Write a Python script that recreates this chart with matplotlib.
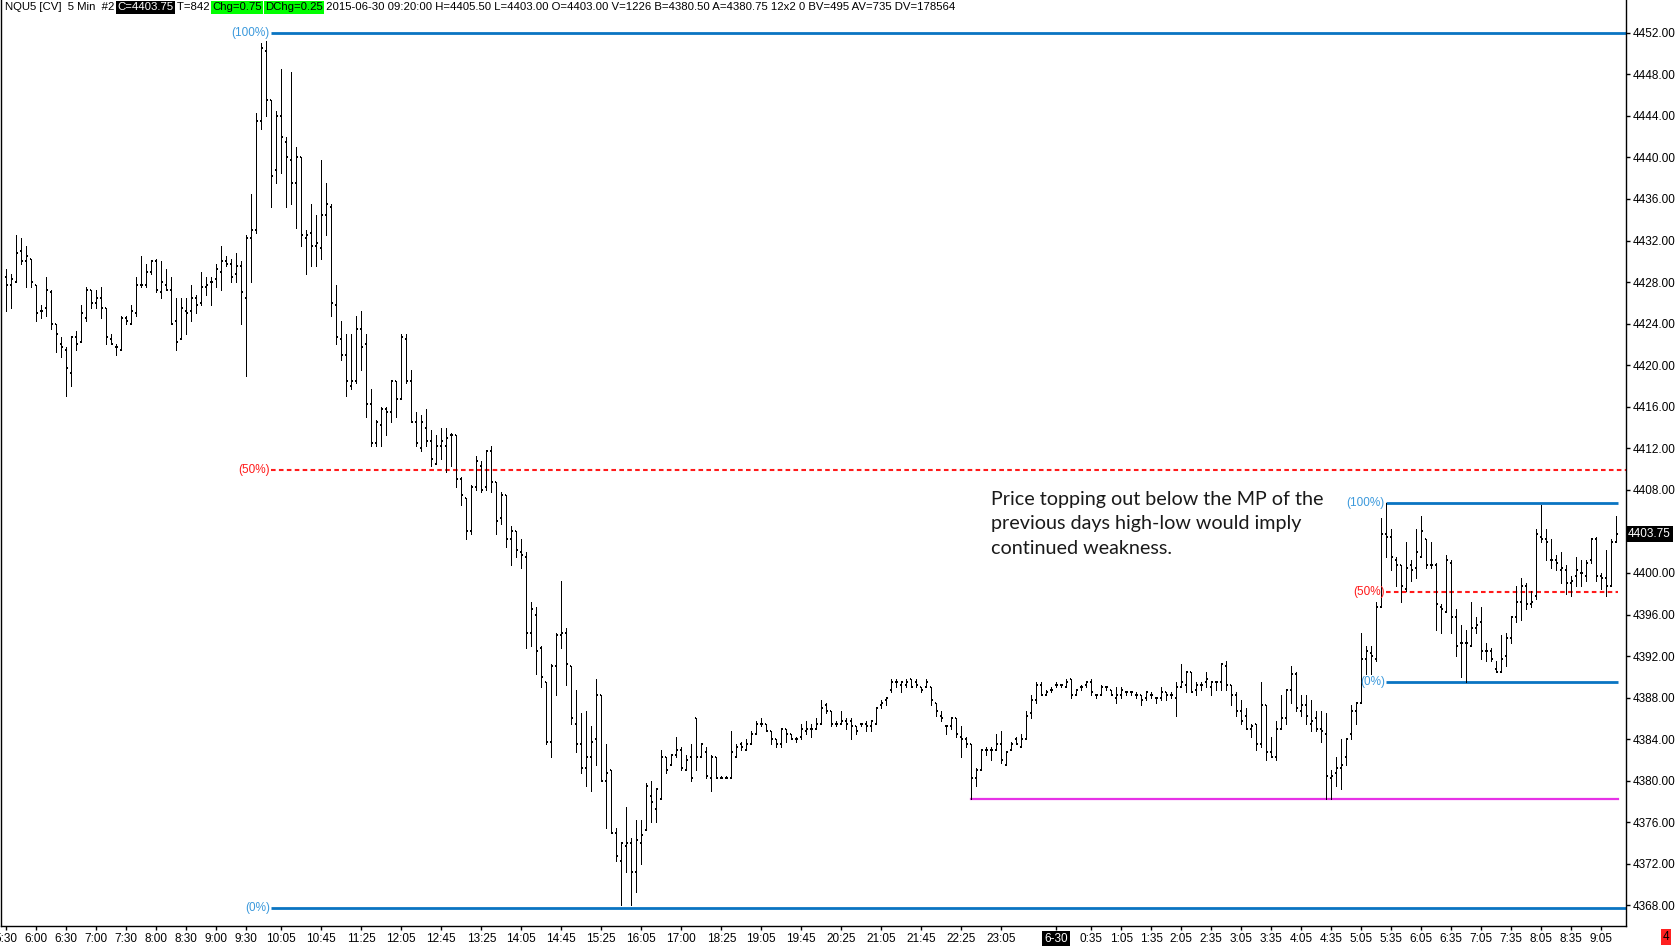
import numpy as np
import pandas as pd
import matplotlib
matplotlib.use("Agg")
import matplotlib.pyplot as plt
from matplotlib.collections import LineCollection
from matplotlib import transforms

# NQU5 5-min bars, 2015-06-29 05:30 -> 2015-06-30 09:20
opens = [
    4428.5, 4427.75, 4428, 4431, 4430, 4430.25, 4427.75, 4425.25, 4425.5, 4427,
    4424, 4422, 4421.5, 4419.25, 4422.75, 4422.25, 4424.5, 4427.25, 4426, 4426.5,
    4425.5, 4422.5, 4421.75, 4421.5, 4424.5, 4424, 4425, 4427.75, 4427.75, 4429,
    4430, 4427, 4427.75, 4427.25, 4424.25, 4422.5, 4425.25, 4425.25, 4426.5, 4426,
    4427.5, 4428, 4428.25, 4429, 4430, 4429.75, 4428.75, 4429.5, 4426.5, 4432.25,
    4433, 4443.5, 4450.25, 4445.5, 4438.75, 4444, 4441.5, 4439.75, 4437.5, 4440,
    4432.25, 4432.75, 4431.5, 4431.25, 4434.5, 4435.25, 4425.75, 4422.5, 4421, 4418,
    4418.5, 4423.5, 4422, 4416.25, 4412.5, 4414.25, 4415.75, 4415.5, 4418.5, 4416.75,
    4422.5, 4418.5, 4414.5, 4412, 4414, 4412.75, 4410.5, 4412.25, 4412.25, 4413.25,
    4413.25, 4409, 4407.25, 4404, 4408.25, 4410.25, 4408.25, 4411.75, 4408.75, 4405.25,
    4407.5, 4403.25, 4404, 4402, 4401.5, 4394.25, 4396, 4392.75, 4389.5, 4383.75,
    4391, 4394, 4394.25, 4391, 4385.5, 4383.5, 4381.25, 4382.25, 4384, 4388.25,
    4380, 4381, 4375, 4372.25, 4373.75, 4374, 4371.25, 4374, 4375.25, 4378.5,
    4377.25, 4378.25, 4382.25, 4381.5, 4382.5, 4383, 4381, 4382.25, 4386, 4382.25,
    4382.75, 4380.25, 4382.25, 4380.25, 4380.25, 4380.25, 4382.25, 4383.5, 4383, 4383.5,
    4384.5, 4385.5, 4385.5, 4384.75, 4384, 4383.5, 4385, 4384.5, 4384, 4384.25,
    4384.75, 4385, 4385, 4385.5, 4387.25, 4386.75, 4385.5, 4385.5, 4385.75, 4385.75,
    4385.25, 4385.5, 4385.5, 4385.25, 4385.5, 4387.25, 4387.75, 4388.75, 4389.5, 4389.25,
    4389.25, 4389.75, 4389.5, 4389, 4389, 4389, 4387.5, 4386.25, 4385.25, 4385.25,
    4386, 4384.25, 4384, 4383.5, 4380.25, 4381, 4383, 4383, 4383, 4383.5,
    4381.5, 4383, 4384, 4383.25, 4384, 4386.5, 4387.75, 4389.25, 4388.25, 4388.75,
    4389.25, 4389.25, 4389, 4389.75, 4388.25, 4389, 4389.25, 4389.5, 4388.25, 4388.25,
    4389, 4388.75, 4388, 4388.25, 4388.5, 4388.5, 4388.25, 4388.25, 4388, 4388.25,
    4388, 4388, 4388.5, 4388.25, 4388, 4389, 4389.25, 4390.5, 4388.75, 4389.25,
    4389.5, 4389, 4389.5, 4389.5, 4391, 4389.25, 4388.25, 4386.75, 4386.25, 4385,
    4385.5, 4383.5, 4387.25, 4382.75, 4382.25, 4385, 4386, 4388.75, 4390.25, 4386.75,
    4387.25, 4385.5, 4386, 4385, 4384.5, 4380.25, 4380.75, 4381.25, 4382.25, 4384.5,
    4386.75, 4387.5, 4391.75, 4392.25, 4391.75, 4396.75, 4403.75, 4403.5, 4401.25, 4400.75,
    4398.5, 4400.75, 4400.5, 4401.5, 4403.25, 4400.75, 4400.75, 4396.75, 4396.25, 4401,
    4395.75, 4393.25, 4393.25, 4393, 4394.75, 4395.25, 4392.5, 4392.5, 4390.75, 4390.5,
    4392, 4393.75, 4395.75, 4397.25, 4398.75, 4397, 4397.75, 4403.5, 4403.25, 4401.25,
    4401.25, 4400.25, 4400.25, 4399, 4399.75, 4400, 4399.75, 4401.25, 4403.25, 4399.75,
    4399.5, 4398.75, 4403,
]
highs = [
    4429.25, 4428.75, 4432.5, 4432.25, 4431.5, 4430.25, 4427.75, 4425.75, 4428.5, 4427.25,
    4424, 4422.75, 4421.75, 4422.75, 4423.25, 4425.75, 4427.5, 4427.25, 4427.25, 4427.5,
    4425.5, 4423, 4422, 4424.75, 4424.75, 4425.75, 4428.5, 4430.5, 4429.75, 4430,
    4430.25, 4430, 4429.25, 4428.5, 4426.5, 4426.5, 4426.5, 4427.75, 4426.75, 4429,
    4428.5, 4428.5, 4429.75, 4431.5, 4430.5, 4430.25, 4430.75, 4430, 4432.5, 4436.5,
    4444.25, 4451, 4451.25, 4445.5, 4444.5, 4448.5, 4442, 4448.25, 4441, 4440,
    4433, 4435.5, 4434.5, 4439.75, 4437.5, 4435.5, 4427.75, 4424.25, 4423, 4423,
    4424.75, 4425.25, 4423, 4417.75, 4414.75, 4416, 4416, 4418.5, 4418.5, 4423,
    4423, 4419.5, 4415.5, 4415.25, 4415.75, 4413.75, 4413.25, 4414, 4414, 4413.5,
    4413.25, 4409.25, 4407.25, 4408.5, 4411.25, 4410.75, 4411.75, 4412.25, 4408.75, 4407.75,
    4407.5, 4404.5, 4404, 4403.25, 4402, 4397.25, 4396.75, 4393, 4389.5, 4391.25,
    4394.25, 4399.25, 4394.75, 4391, 4388.75, 4386.5, 4386.75, 4385.25, 4389.75, 4388.25,
    4383.5, 4381, 4375.5, 4374, 4377.5, 4374.5, 4376.25, 4376.25, 4379.75, 4380,
    4379.25, 4383, 4382.25, 4382.5, 4384.25, 4383.25, 4382.5, 4383.5, 4386, 4383.5,
    4383.25, 4382.5, 4382.25, 4380.5, 4380.5, 4384.75, 4383.5, 4383.75, 4384, 4384.75,
    4385.75, 4386, 4385.5, 4384.75, 4384, 4385, 4385, 4384.5, 4384.25, 4385.5,
    4385.75, 4385.5, 4386, 4387.75, 4387.5, 4386.75, 4385.75, 4386.75, 4386, 4386,
    4385.25, 4385.5, 4385.75, 4385.75, 4387, 4387.75, 4388, 4389.75, 4389.75, 4389.5,
    4389.75, 4389.75, 4389.75, 4389, 4389.75, 4389, 4387.5, 4386.75, 4385.25, 4386,
    4386, 4385.25, 4384.25, 4383.5, 4381.25, 4383, 4383.25, 4383.25, 4384.5, 4384.75,
    4382.75, 4383.75, 4384.25, 4384.5, 4386.75, 4388.25, 4389.5, 4389.5, 4388.75, 4389,
    4389.5, 4389.25, 4389.75, 4389.75, 4388.75, 4389.25, 4389.5, 4389.75, 4388.25, 4389.25,
    4389, 4388.75, 4389, 4389, 4388.5, 4388.5, 4388.5, 4388.25, 4388.5, 4388.5,
    4388, 4389, 4388.5, 4388.5, 4389.5, 4391.25, 4390.5, 4390.5, 4389.5, 4389.5,
    4390.5, 4389.5, 4389.5, 4391.25, 4391.5, 4389.25, 4388.5, 4387.75, 4387, 4385.5,
    4385.5, 4389.5, 4387.25, 4384.25, 4385.75, 4388.25, 4388.75, 4391, 4390.5, 4388.25,
    4388.25, 4387.75, 4386.75, 4386.75, 4386.5, 4381, 4382.25, 4384, 4384, 4387.25,
    4387.5, 4394.25, 4393, 4393, 4397.25, 4405.25, 4406.75, 4404.25, 4401.5, 4400.75,
    4403, 4401.25, 4404.25, 4405.5, 4403.25, 4403, 4401, 4397, 4401.75, 4401.25,
    4396.5, 4395, 4394.5, 4397.25, 4395.75, 4396.75, 4393.25, 4392.75, 4391.5, 4394,
    4394.25, 4395.75, 4398.75, 4399.5, 4399, 4398.25, 4404.25, 4406.5, 4404.25, 4403.25,
    4401.75, 4402, 4400.75, 4399.75, 4401.5, 4401.25, 4401.25, 4403.25, 4403.5, 4400,
    4402.25, 4403.25, 4405.5,
]
lows = [
    4425.25, 4425.5, 4428, 4429.75, 4427.5, 4427.5, 4424.25, 4424.5, 4424.75, 4423.5,
    4421.25, 4420.75, 4417, 4418, 4421.5, 4422.25, 4424.25, 4425.5, 4425.5, 4424.5,
    4422, 4422, 4421, 4421.5, 4424, 4424, 4424.75, 4427.5, 4427.5, 4428.75,
    4427, 4426.5, 4427.25, 4424, 4421.5, 4422.5, 4423, 4424.25, 4425, 4425.75,
    4426.75, 4425.75, 4427.5, 4427.25, 4429.5, 4428, 4428, 4424, 4419, 4428,
    4432.75, 4442.75, 4444, 4435.25, 4437.5, 4438.5, 4435.25, 4435.5, 4433.25, 4431.5,
    4428.75, 4429.5, 4429.5, 4430.25, 4432.5, 4424.75, 4422, 4420.5, 4417, 4417.75,
    4418.25, 4419.5, 4415, 4412.25, 4412.25, 4412.25, 4413.25, 4414.5, 4415, 4416.75,
    4418.25, 4414.5, 4412.25, 4411.75, 4412.25, 4410.25, 4410.5, 4411, 4409.75, 4410.25,
    4408.25, 4406.5, 4403.25, 4403.75, 4408, 4407.75, 4408, 4407.75, 4403.75, 4404.75,
    4402.5, 4400.75, 4401.5, 4400.5, 4392.75, 4393, 4390.25, 4389, 4383.5, 4382.25,
    4388.25, 4392.75, 4389.25, 4385.5, 4382.75, 4380.75, 4379.5, 4379, 4381.5, 4380,
    4375.5, 4375, 4372.25, 4368, 4371.25, 4368, 4369.25, 4372, 4375.25, 4376,
    4376, 4378.25, 4380.75, 4381.5, 4382.25, 4381, 4381, 4380, 4381, 4382.25,
    4380.25, 4379, 4380.25, 4380.25, 4380.25, 4380.25, 4382.25, 4383, 4383, 4383.5,
    4384.5, 4385.25, 4384.75, 4383.5, 4383.25, 4383.25, 4383.75, 4384, 4383.75, 4384,
    4384.5, 4384.25, 4385, 4385.5, 4386.5, 4385.25, 4385.25, 4385.5, 4385, 4384,
    4384.5, 4385.25, 4384.75, 4384.75, 4385.5, 4387, 4387.25, 4388.5, 4389, 4388.5,
    4389, 4389, 4389, 4388.5, 4389, 4387.25, 4386.25, 4385.75, 4384.5, 4385,
    4384.25, 4382.25, 4383.25, 4378.25, 4379.5, 4381, 4382.5, 4382, 4383, 4381.75,
    4381.5, 4383, 4383.5, 4383.25, 4384, 4386, 4387.5, 4388.25, 4388.25, 4388.5,
    4389, 4389, 4389, 4388, 4388.25, 4388.75, 4389, 4388.25, 4388, 4388.25,
    4388.75, 4388.25, 4387.5, 4388, 4388.25, 4388.25, 4388, 4387.25, 4387.75, 4388,
    4387.5, 4387.75, 4387.75, 4388, 4386.25, 4389, 4388.5, 4388.5, 4388.25, 4388.75,
    4389, 4388.25, 4388.75, 4388.75, 4388.75, 4387.25, 4386.25, 4385.5, 4385, 4384.25,
    4383, 4383.25, 4382, 4382.25, 4382, 4385, 4385.5, 4387.5, 4386.75, 4386.25,
    4385.5, 4384.75, 4384.75, 4383.75, 4378.25, 4378.25, 4379.5, 4379.25, 4381.5, 4384,
    4385.5, 4387.5, 4390.25, 4390.25, 4391.5, 4396.75, 4401.5, 4400.25, 4398.75, 4397.25,
    4398.25, 4399.25, 4399.5, 4401.5, 4400.5, 4400.5, 4394.5, 4394.25, 4396.25, 4394.25,
    4392, 4390, 4389.5, 4393, 4394.25, 4391.75, 4391.5, 4391.5, 4390.5, 4390.5,
    4391, 4393.25, 4395.25, 4395.5, 4396.5, 4396.75, 4397.5, 4403, 4401.25, 4400.5,
    4400.25, 4399, 4398, 4397.75, 4398.75, 4398.75, 4399.25, 4401, 4399.25, 4398.5,
    4397.75, 4398.75, 4403,
]
closes = [
    4427.75, 4428.25, 4430.75, 4430, 4430.5, 4428, 4425, 4425.25, 4427.25, 4424,
    4423, 4421.75, 4419.75, 4422.75, 4422, 4425, 4427.25, 4426, 4426.5, 4425.5,
    4422.75, 4422, 4421.75, 4424.5, 4424.25, 4425.25, 4427.75, 4427.75, 4429, 4430,
    4427.25, 4428, 4427.25, 4424, 4422.25, 4425.5, 4425, 4426.5, 4425.75, 4427.5,
    4427.75, 4428, 4429.25, 4430, 4429.75, 4428.5, 4429.5, 4427, 4432.25, 4433,
    4443.5, 4450.5, 4445.5, 4438.25, 4444, 4442, 4440, 4437.5, 4440, 4432.5,
    4432.5, 4431.5, 4431.75, 4434.5, 4435.5, 4426, 4422.75, 4421, 4418.5, 4418.5,
    4423.5, 4421.75, 4416.25, 4412.5, 4414.5, 4415.75, 4415.5, 4418.5, 4416.75, 4422.75,
    4418.5, 4414.5, 4412.5, 4414.5, 4412.75, 4411, 4412.25, 4412.75, 4413, 4413.25,
    4409, 4407.5, 4404, 4408.25, 4410.75, 4408, 4411.75, 4408.75, 4405, 4407.5,
    4403.25, 4404, 4402.25, 4401.75, 4394.25, 4396.5, 4392.5, 4390, 4383.75, 4391,
    4394, 4394.25, 4391.25, 4386, 4383.5, 4381.25, 4382.25, 4383.75, 4388.25, 4380,
    4380.75, 4375, 4372.75, 4374, 4374, 4371.25, 4374.25, 4374.75, 4379.5, 4378,
    4379.25, 4382.25, 4381, 4382.5, 4383, 4381.25, 4382, 4380.25, 4382.25, 4383.5,
    4380.5, 4382.25, 4380.25, 4380.25, 4380.25, 4382.75, 4383.25, 4383.25, 4383.5, 4384.5,
    4385.5, 4385.5, 4384.75, 4384, 4383.5, 4385, 4384.5, 4384, 4384, 4385,
    4385, 4385, 4385.5, 4387, 4386.75, 4385.5, 4385.5, 4385.75, 4385.5, 4385.25,
    4384.75, 4385.5, 4385.25, 4385.75, 4387, 4387.5, 4388, 4389.5, 4389.5, 4389.5,
    4389.5, 4389, 4389.25, 4388.75, 4389.5, 4387.75, 4386.75, 4386, 4385.25, 4386,
    4384.5, 4384, 4383.5, 4380.25, 4381, 4383, 4383, 4383, 4383.5, 4382,
    4382.75, 4383.5, 4383.5, 4384, 4386.25, 4387.75, 4389.25, 4388.25, 4388.5, 4388.75,
    4389.25, 4389.25, 4389.5, 4388.25, 4388.75, 4389, 4389.5, 4388.5, 4388.25, 4389,
    4389, 4388.25, 4388.25, 4388.75, 4388.5, 4388.5, 4388.25, 4387.75, 4388.5, 4388.25,
    4388, 4388.5, 4388.25, 4388.25, 4389, 4389.5, 4390.5, 4388.5, 4389.25, 4389.25,
    4389.75, 4389.5, 4389.5, 4391.25, 4389.25, 4388.25, 4386.75, 4385.75, 4385, 4385.25,
    4383.5, 4387.25, 4382.75, 4382.25, 4385, 4386, 4388.75, 4390.25, 4387, 4387.25,
    4386.25, 4385.75, 4385, 4384.75, 4380.5, 4380.5, 4381.25, 4381.5, 4384, 4386.75,
    4387.5, 4391.75, 4392.5, 4392, 4396.75, 4403.75, 4403.5, 4401.5, 4400.75, 4398.75,
    4400.5, 4400.25, 4402, 4404, 4400.75, 4400.75, 4397, 4396.5, 4401.25, 4395.75,
    4393, 4393.25, 4393.25, 4394.75, 4395, 4392.5, 4392.5, 4391.75, 4390.5, 4391.75,
    4393.75, 4395.75, 4397.25, 4398.75, 4397, 4397.25, 4403.75, 4403.25, 4403, 4401.25,
    4401, 4400.5, 4399, 4399.25, 4400.25, 4400, 4401, 4403.25, 4399.75, 4399.5,
    4398.75, 4403, 4403.75,
]

# trading sessions (halts 16:15-16:30 and 17:15-18:00)
sessions = [("2015-06-29 05:30", "2015-06-29 16:15"),
            ("2015-06-29 16:35", "2015-06-29 17:15"),
            ("2015-06-29 18:05", "2015-06-30 09:20")]

tick_times = [
    "2015-06-29 05:30", "2015-06-29 06:00", "2015-06-29 06:30", "2015-06-29 07:00",
    "2015-06-29 07:30", "2015-06-29 08:00", "2015-06-29 08:30", "2015-06-29 09:00",
    "2015-06-29 09:30", "2015-06-29 10:05", "2015-06-29 10:45", "2015-06-29 11:25",
    "2015-06-29 12:05", "2015-06-29 12:45", "2015-06-29 13:25", "2015-06-29 14:05",
    "2015-06-29 14:45", "2015-06-29 15:25", "2015-06-29 16:05", "2015-06-29 17:00",
    "2015-06-29 18:25", "2015-06-29 19:05", "2015-06-29 19:45", "2015-06-29 20:25",
    "2015-06-29 21:05", "2015-06-29 21:45", "2015-06-29 22:25", "2015-06-29 23:05",
    "2015-06-30 00:00", "2015-06-30 00:35", "2015-06-30 01:05", "2015-06-30 01:35",
    "2015-06-30 02:05", "2015-06-30 02:35", "2015-06-30 03:05", "2015-06-30 03:35",
    "2015-06-30 04:05", "2015-06-30 04:35", "2015-06-30 05:05", "2015-06-30 05:35",
    "2015-06-30 06:05", "2015-06-30 06:35", "2015-06-30 07:05", "2015-06-30 07:35",
    "2015-06-30 08:05", "2015-06-30 08:35", "2015-06-30 09:05",
]

# drawing objects: (start time, 100% level, 0% level)
big_fib = ("2015-06-29 09:55", 4452.0, 4367.75)
small_fib = ("2015-06-30 05:30", 4406.75, 4389.5)
support = ("2015-06-29 22:35", 4378.25)
last_price = 4403.75

note = ("Price topping out below the MP of the\n"
        "previous days high-low would imply\n"
        "continued weakness.")

header = [
    ("NQU5 [CV]  5 Min  #2 ", None, "black"),
    ("C=4403.75", "black", "white"),
    (" T=842 ", None, "black"),
    ("Chg=0.75", "#00ff00", "black"),
    (" ", None, "black"),
    ("DChg=0.25", "#00ff00", "black"),
    (" 2015-06-30 09:20:00 H=4405.50 L=4403.00 O=4403.00 V=1226 B=4380.50 "
     "A=4380.75 12x2 0 BV=495 AV=735 DV=178564", None, "black"),
]

FONT = ["Liberation Sans", "DejaVu Sans"]
plt.rcParams["font.family"] = FONT

times = pd.DatetimeIndex(np.concatenate(
    [pd.date_range(a, b, freq="5min").values for a, b in sessions]))
x = np.arange(len(closes))

W, H = 1677, 946
fig = plt.figure(figsize=(W / 100, H / 100), dpi=100)
ax = fig.add_axes([1 / W, 20 / H, 1625 / W, 926 / H])
ax.set_xlim(-1.06, 323.94)
ax.set_ylim(4366.02, 4455.15)

# OHLC bars
px = 0.2  # one pixel in bar units
vert = [[(i, l), (i, h)] for i, l, h in zip(x, lows, highs)]
otk = [[(i - 1.6 * px, o), (i, o)] for i, o in zip(x, opens)]
ctk = [[(i, c), (i + 1.6 * px, c)] for i, c in zip(x, closes)]
ax.add_collection(LineCollection(vert, colors="black", linewidths=0.72,
                                 antialiaseds=False, zorder=3))
ax.add_collection(LineCollection(otk + ctk, colors="black", linewidths=1.4,
                                 antialiaseds=False, zorder=3))

blue = "#0a74c2"
lblue = "#3b99dc"
red = "#ff1a1a"


def fib(start, hi, lo, end):
    i0 = times.get_loc(pd.Timestamp(start))
    mid = (hi + lo) / 2
    for lvl, txt, col, tcol, ls in [(hi, "(100%)", blue, lblue, "-"),
                                    (mid, "(50%)", red, red, (0, (2.2, 1.6))),
                                    (lo, "(0%)", blue, lblue, "-")]:
        ax.plot([i0, end], [lvl, lvl], color=col, lw=2.0 if ls == "-" else 1.5,
                ls=ls, zorder=2, solid_capstyle="butt")
        ax.text(i0 - 0.3, lvl, txt, color=tcol, fontsize=8.5, ha="right",
                va="center", zorder=4)


fib(big_fib[0], big_fib[1], big_fib[2], ax.get_xlim()[1])
fib(small_fib[0], small_fib[1], small_fib[2], x[-1] + 0.3)

s0 = times.get_loc(pd.Timestamp(support[0]))
ax.plot([s0, x[-1] + 0.3], [support[1]] * 2, color="#e632e6", lw=1.6, zorder=2)

ax.text(196.9, 4407.9, note, fontsize=14.2,
        family=["Lato", "DejaVu Sans"], va="top", ha="left", linespacing=1.53,
        color="#1a1a1a")

# axes styling
ax.spines["top"].set_visible(False)
for side in ["left", "right", "bottom"]:
    ax.spines[side].set_linewidth(1.0)
    ax.spines[side].set_color("black")

ticks = [times.get_loc(pd.Timestamp(t)) for t in tick_times]
labels = []
for t in tick_times:
    ts = pd.Timestamp(t)
    labels.append(f"{ts.month}-{ts.day}" if ts.hour == 0 and ts.minute == 0
                  else f"{ts.hour}:{ts.minute:02d}")
ax.set_xticks(ticks)
ax.set_xticklabels(labels)
ax.tick_params(axis="x", length=3, width=1, pad=2, labelsize=8.5, direction="out")
for lab in ax.get_xticklabels():
    if "-" in lab.get_text():
        lab.set_color("white")
        lab.set_bbox(dict(facecolor="black", edgecolor="none", pad=1.5))

# price scale; the level under the last-price box is covered by it
yt = np.arange(4368, 4453, 4)
ax.yaxis.tick_right()
ax.set_yticks(yt)
ax.set_yticklabels(["" if abs(v - last_price) < 1.5 else f"{v:.2f}" for v in yt])
ax.tick_params(axis="y", length=3, width=1, pad=1.5, labelsize=8.5, direction="out")

ytr = transforms.blended_transform_factory(ax.transAxes, ax.transData)
ax.text(1.0 + 2 / 1625, last_price, f"{last_price:.2f}", transform=ytr,
        color="white", fontsize=8.5, ha="left", va="center", zorder=10,
        bbox=dict(facecolor="black", edgecolor="none", pad=1.6), clip_on=False)

fig.text(1666 / W, 1 - 937 / H, "4", fontsize=8.5, ha="center", va="center",
         color="black", bbox=dict(facecolor="#ff2020", edgecolor="none", pad=1.5))

# header line
fig.canvas.draw()
renderer = fig.canvas.get_renderer()
xpos = 5
for txt, bg, fg in header:
    t = fig.text(xpos / W, 1 - 7.5 / H, txt, fontsize=8.2, color=fg,
                 ha="left", va="center")
    if bg:
        t.set_bbox(dict(facecolor=bg, edgecolor="none", pad=0.8))
    bb = t.get_window_extent(renderer=renderer)
    xpos += bb.width

fig.savefig("out.png", dpi=100)
